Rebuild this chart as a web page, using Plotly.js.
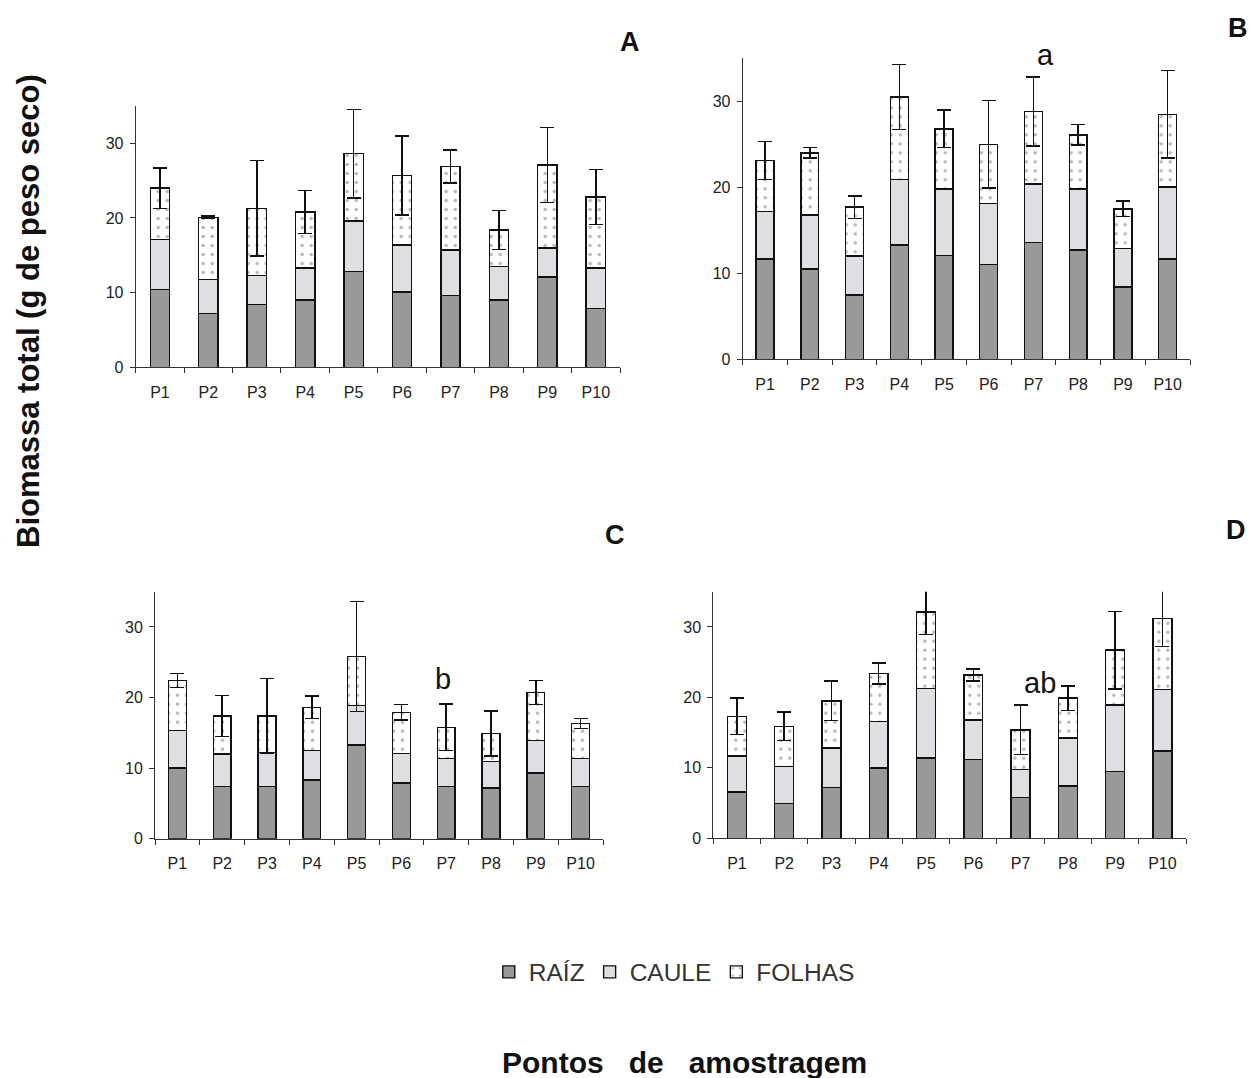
<!DOCTYPE html>
<html>
<head>
<meta charset="utf-8">
<script src="https://cdn.plot.ly/plotly-3.0.1.min.js"></script>
<style>html,body{margin:0;padding:0;background:#fff;}#chart{width:1251px;height:1078px;}</style>
</head>
<body>
<div id="chart"></div>
<script>
const categories = ["P1","P2","P3","P4","P5","P6","P7","P8","P9","P10"];
const seriesNames = ["RAÍZ","CAULE","FOLHAS"];

// Panel A
const raizA   = [10.4, 7.2, 8.4, 9.0, 12.8, 10.1, 9.6, 9.0, 12.1, 7.9];
const cauleA  = [6.7, 4.6, 3.9, 4.3, 6.8, 6.3, 6.1, 4.5, 3.9, 5.4];
const folhasA = [6.9, 8.3, 9.0, 7.5, 9.0, 9.3, 11.2, 4.9, 11.1, 9.5];
const errA    = [2.7, 0.2, 6.4, 2.9, 5.9, 5.3, 2.2, 2.6, 5.0, 3.7];

// Panel B
const raizB   = [11.65, 10.5, 7.5, 13.3, 12.1, 11.0, 13.6, 12.7, 8.4, 11.65];
const cauleB  = [5.55, 6.3, 4.5, 7.6, 7.7, 7.1, 6.8, 7.1, 4.5, 8.4];
const folhasB = [5.9, 7.2, 5.7, 9.6, 7.0, 6.9, 8.4, 6.3, 4.6, 8.45];
const errB    = [2.2, 0.6, 1.3, 3.8, 2.2, 5.1, 4.0, 1.2, 0.9, 5.1];

// Panel C
const raizC   = [10.0, 7.4, 7.4, 8.3, 13.3, 7.9, 7.4, 7.2, 9.3, 7.4];
const cauleC  = [5.3, 4.6, 4.8, 4.2, 5.6, 4.2, 4.0, 3.7, 4.6, 4.0];
const folhasC = [7.1, 5.4, 5.2, 6.1, 6.9, 5.8, 4.4, 4.0, 6.8, 4.9];
const errC    = [1.0, 2.9, 5.3, 1.6, 7.8, 1.1, 3.3, 3.2, 1.7, 0.7];

// Panel D
const raizD   = [6.6, 4.9, 7.2, 10.0, 11.4, 11.2, 5.8, 7.45, 9.5, 12.4];
const cauleD  = [5.1, 5.3, 5.6, 6.6, 9.9, 5.6, 4.0, 6.8, 9.4, 8.7];
const folhasD = [5.6, 5.7, 6.7, 6.8, 10.8, 6.4, 5.6, 5.65, 7.8, 10.1];
const errD    = [2.6, 2.0, 2.8, 1.5, 3.2, 0.85, 3.5, 1.75, 5.5, 4.0];

const panels = [
  {raiz: raizA, caule: cauleA, folhas: folhasA, err: errA, xa: "x",  ya: "y"},
  {raiz: raizB, caule: cauleB, folhas: folhasB, err: errB, xa: "x2", ya: "y2"},
  {raiz: raizC, caule: cauleC, folhas: folhasC, err: errC, xa: "x3", ya: "y3"},
  {raiz: raizD, caule: cauleD, folhas: folhasD, err: errD, xa: "x4", ya: "y4"}
];

const outline = {color: "#111", width: 1.4};
const traces = [];
panels.forEach((p, i) => {
  const first = i === 0;
  traces.push({
    type: "bar", x: categories, y: p.raiz, xaxis: p.xa, yaxis: p.ya, cliponaxis: false,
    name: seriesNames[0], legendgroup: "r", showlegend: first,
    marker: {color: "#999999", line: outline}
  });
  traces.push({
    type: "bar", x: categories, y: p.caule, xaxis: p.xa, yaxis: p.ya, cliponaxis: false,
    name: seriesNames[1], legendgroup: "c", showlegend: first,
    marker: {color: "#dfdfe3", line: outline}
  });
  traces.push({
    type: "bar", x: categories, y: p.folhas, xaxis: p.xa, yaxis: p.ya, cliponaxis: false,
    name: seriesNames[2], legendgroup: "f", showlegend: first,
    marker: {color: "#ffffff", line: outline,
      pattern: {shape: ".", fgcolor: "#b8b8b8", bgcolor: "#ffffff", size: 9, solidity: 0.12}},
    error_y: {type: "data", array: p.err, visible: true, color: "#111", thickness: 1.5, width: 7}
  });
});

const tickFont = {family: "Liberation Sans, Arial, sans-serif", size: 16, color: "#222"};
function xAxis(domain, anchor) {
  return {domain: domain, anchor: anchor, type: "category", showline: true, linecolor: "#333", linewidth: 1,
    ticks: "outside", tickson: "boundaries", ticklen: 5, tickcolor: "#333", tickfont: tickFont,
    ticklabelstandoff: 10, showgrid: false, zeroline: false, fixedrange: true};
}
function yAxis(domain, anchor) {
  return {domain: domain, anchor: anchor, range: [0, 35], dtick: 10, tick0: 0, showline: true, linecolor: "#333", linewidth: 1,
    ticks: "outside", ticklen: 5, tickcolor: "#333", tickfont: tickFont, ticklabelstandoff: 3,
    showgrid: false, zeroline: false, fixedrange: true};
}

const W = 1251, H = 1078;
const px = (a, b) => [a / W, b / W];
const py = (bottom, top) => [1 - bottom / H, 1 - top / H];

const titleFont = {family: "Liberation Sans, Arial, sans-serif", size: 27, color: "#111"};
const letterFont = {family: "Liberation Sans, Arial, sans-serif", size: 29, color: "#111"};
const nb = "\u00A0";

const layout = {
  width: W, height: H,
  margin: {l: 0, r: 0, t: 0, b: 0},
  paper_bgcolor: "#fff", plot_bgcolor: "#fff",
  barmode: "stack", bargap: 0.6,
  xaxis:  xAxis(px(135.7, 620), "y"),
  yaxis:  yAxis(py(367.3, 106), "x"),
  xaxis2: xAxis(px(742.7, 1190), "y2"),
  yaxis2: yAxis(py(359.3, 58.3), "x2"),
  xaxis3: xAxis(px(155, 603), "y3"),
  yaxis3: yAxis(py(838.7, 591.7), "x3"),
  xaxis4: xAxis(px(713.3, 1186), "y4"),
  yaxis4: yAxis(py(838.3, 591.7), "x4"),
  showlegend: true,
  legend: {orientation: "h", x: 0.539, xanchor: "center", y: 1 - 972 / H, yanchor: "middle",
    font: {family: "Liberation Sans, Arial, sans-serif", size: 24.5, color: "#333"},
    itemwidth: 30, traceorder: "normal", bgcolor: "rgba(0,0,0,0)"},
  annotations: [
    {text: "<b>A</b>", x: 630 / W, y: 1 - 42 / H, xref: "paper", yref: "paper", showarrow: false, font: titleFont, xanchor: "center", yanchor: "middle"},
    {text: "<b>B</b>", x: 1238 / W, y: 1 - 28 / H, xref: "paper", yref: "paper", showarrow: false, font: titleFont, xanchor: "center", yanchor: "middle"},
    {text: "<b>C</b>", x: 615 / W, y: 1 - 535 / H, xref: "paper", yref: "paper", showarrow: false, font: titleFont, xanchor: "center", yanchor: "middle"},
    {text: "<b>D</b>", x: 1236 / W, y: 1 - 530 / H, xref: "paper", yref: "paper", showarrow: false, font: titleFont, xanchor: "center", yanchor: "middle"},
    {text: "a",  x: 1045 / W, y: 1 - 55 / H, xref: "paper", yref: "paper", showarrow: false, font: letterFont, xanchor: "center", yanchor: "middle"},
    {text: "b",  x: 443 / W, y: 1 - 679 / H, xref: "paper", yref: "paper", showarrow: false, font: letterFont, xanchor: "center", yanchor: "middle"},
    {text: "ab", x: 1040 / W, y: 1 - 683 / H, xref: "paper", yref: "paper", showarrow: false, font: letterFont, xanchor: "center", yanchor: "middle"},
    {text: "<b>Biomassa total (g de peso seco)</b>", x: 28 / W, y: 1 - 311 / H, xref: "paper", yref: "paper", showarrow: false,
      textangle: -90, font: {family: "Liberation Sans, Arial, sans-serif", size: 31, color: "#111"}, xanchor: "center", yanchor: "middle"},
    {text: "<b>Pontos" + nb + nb + nb + "de" + nb + nb + nb + "amostragem</b>", x: 684 / W, y: 1 - 1062 / H, xref: "paper", yref: "paper", showarrow: false,
      font: {family: "Liberation Sans, Arial, sans-serif", size: 30, color: "#111"}, xanchor: "center", yanchor: "middle"}
  ]
};

Plotly.newPlot("chart", traces, layout, {displayModeBar: false, staticPlot: true});
</script>
</body>
</html>
